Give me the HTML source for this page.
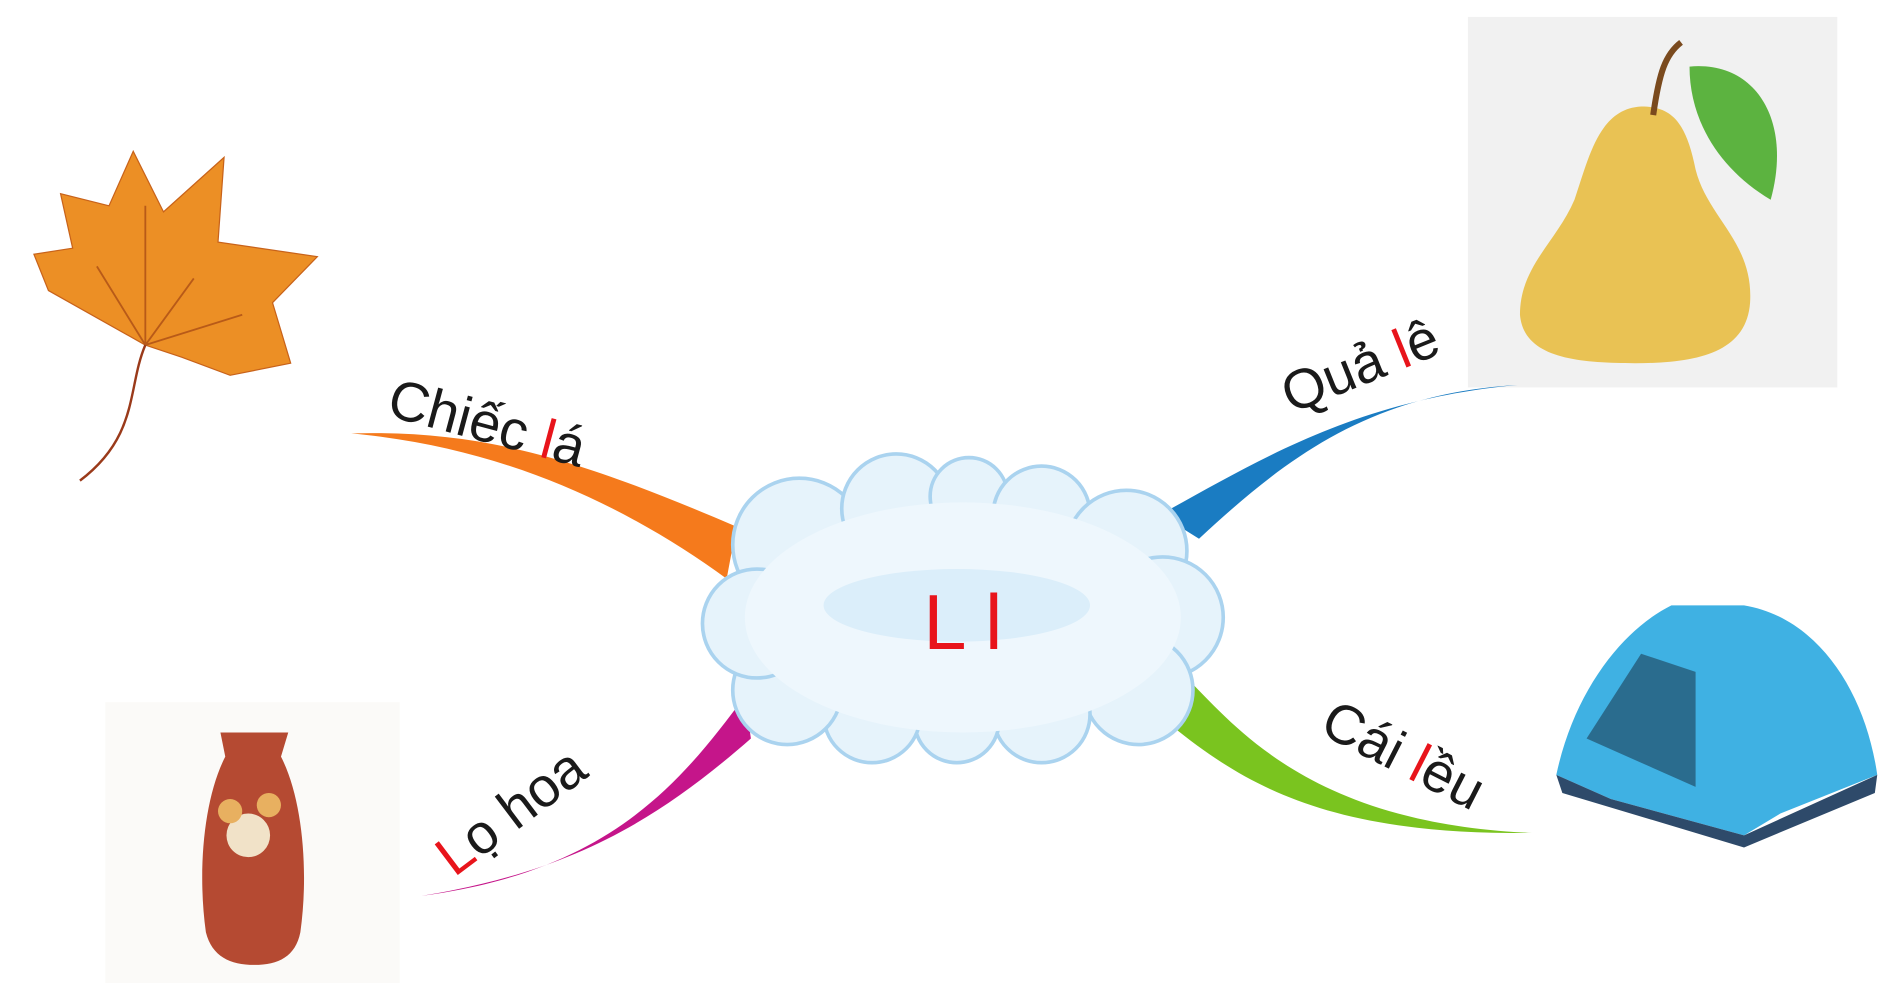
<!DOCTYPE html>
<html><head><meta charset="utf-8"><style>
html,body{margin:0;padding:0;background:#fff;}
svg{display:block;}
text{font-family:"Liberation Sans",sans-serif;}
</style></head><body>
<svg width="1893" height="1000" viewBox="0 0 1563 826" preserveAspectRatio="none" xmlns="http://www.w3.org/2000/svg">
<rect width="1563" height="826" fill="#fff"/>
<rect x="1212" y="14" width="305" height="306" fill="#f1f1f1"/>
<rect x="87" y="580" width="243" height="232" fill="#fbfaf8"/>

<path d="M290 358 C400 355 480 380 608 435 L600 478 C520 420 420 370 290 358 Z" fill="#f57a1c"/>
<path d="M1253 318 C1130 325 1060 380 990 445 L958 425 C1040 380 1120 330 1253 318 Z" fill="#1a7cc2"/>
<path d="M975 555 C1020 600 1080 680 1265 688 C1100 690 1030 650 968 600 Z" fill="#7ac41f"/>
<path d="M615 575 C560 650 500 720 348 740 C470 720 540 680 620 610 Z" fill="#c5158a"/>

<g fill="#e6f3fb" stroke="#aad3ef" stroke-width="3">
<circle cx="660" cy="450" r="55"/>
<circle cx="740" cy="420" r="45"/>
<circle cx="800" cy="410" r="32"/>
<circle cx="860" cy="425" r="40"/>
<circle cx="930" cy="455" r="50"/>
<circle cx="960" cy="510" r="50"/>
<circle cx="940" cy="570" r="45"/>
<circle cx="860" cy="590" r="40"/>
<circle cx="790" cy="595" r="35"/>
<circle cx="720" cy="590" r="40"/>
<circle cx="650" cy="570" r="45"/>
<circle cx="625" cy="515" r="45"/>
</g>
<ellipse cx="795" cy="510" rx="180" ry="95" fill="#eef7fd"/>
<ellipse cx="790" cy="500" rx="110" ry="30" fill="#dbeefa"/>
<text x="795" y="536" text-anchor="middle" font-size="64" fill="#e8141b">L l</text>

<text transform="translate(318,343) rotate(15)" font-size="46" fill="#1a1a1a">Chiếc <tspan fill="#e8141b">l</tspan>á</text>
<text transform="translate(1066,342) rotate(-22)" font-size="46" fill="#1a1a1a">Quả <tspan fill="#e8141b">l</tspan>ê</text>
<text transform="translate(1088,605) rotate(27)" font-size="46" fill="#1a1a1a">Cái <tspan fill="#e8141b">l</tspan>ều</text>
<text transform="translate(375,725) rotate(-37)" font-size="46" fill="#1a1a1a"><tspan fill="#e8141b">L</tspan>ọ hoa</text>

<path d="M120 285 L40 240 L28 210 L60 205 L50 160 L90 170 L110 125 L135 175 L185 130 L180 200 L262 212 L225 250 L240 300 L190 310 L150 295 Z" fill="#ec8f25" stroke="#c8621a" stroke-width="1"/>
<path d="M120 285 L160 230 M120 285 L80 220 M120 285 L120 170 M120 285 L200 260" stroke="#b85a18" stroke-width="1.5" fill="none"/>
<path d="M120 285 C105 320 115 360 66 397" stroke="#9a3a1a" stroke-width="2" fill="none"/>

<path d="M1355 88 C1320 90 1312 130 1300 165 C1285 200 1255 220 1255 260 C1258 295 1300 300 1350 300 C1400 300 1442 292 1445 250 C1448 200 1410 180 1400 140 C1392 100 1380 88 1355 88 Z" fill="#e9c254"/>
<path d="M1365 95 C1370 60 1375 45 1388 35" stroke="#7a4a1e" stroke-width="5" fill="none"/>
<path d="M1395 55 C1450 50 1480 100 1462 165 C1420 140 1395 100 1395 55 Z" fill="#5cb340"/>

<path d="M182 605 L238 605 L232 625 C250 660 255 720 248 770 C244 790 230 797 210 797 C190 797 175 790 170 770 C163 720 168 660 186 625 Z" fill="#b54a32"/>
<circle cx="205" cy="690" r="18" fill="#f1e2c8"/>
<circle cx="190" cy="670" r="10" fill="#e8b060"/>
<circle cx="222" cy="665" r="10" fill="#e8b060"/>

<path d="M1380 500 C1340 520 1300 570 1285 640 L1330 660 L1440 690 L1470 672 L1550 640 C1540 570 1500 510 1440 500 Z" fill="#3fb1e3"/>
<path d="M1310 610 L1355 540 L1400 555 L1400 650 Z" fill="#2a6c8e"/>
<path d="M1285 640 L1330 660 L1440 690 L1550 640 L1548 655 L1440 700 L1290 655 Z" fill="#2e4a6a"/>
</svg>
</body></html>
